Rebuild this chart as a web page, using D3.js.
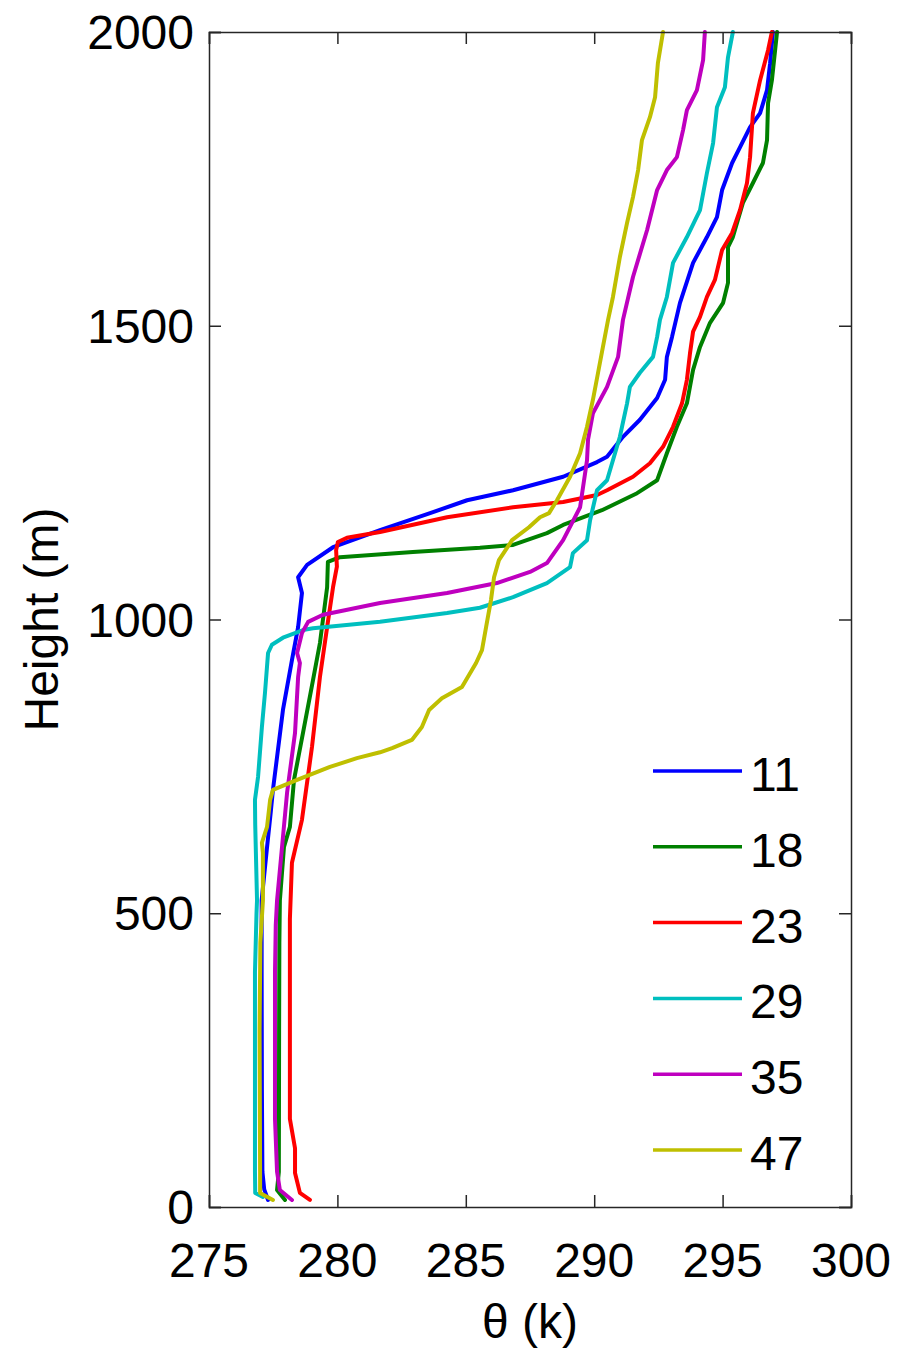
<!DOCTYPE html>
<html>
<head>
<meta charset="utf-8">
<script src="https://cdn.jsdelivr.net/npm/d3@7"></script>
<style>
  html, body { margin: 0; padding: 0; background: #fff; }
  svg { display: block; }
  text { font-family: "Liberation Sans", Arial, Helvetica, sans-serif; fill: #000; }
</style>
</head>
<body>
<svg id="chart" width="900" height="1350"></svg>
<script>
// ---- Data: [theta (K), height (m)] ----
const seriesNames = ["11", "18", "23", "29", "35", "47"];
const seriesColors = ["#0000ff", "#008000", "#ff0000", "#00bfbf", "#bf00bf", "#bfbf00"];

const s11 = [[277.30,12],[277.15,30],[277.08,60],[277.06,200],[277.05,400],[277.05,522],[277.25,608],[277.40,670],[277.49,710],[277.88,846],[278.23,931],[278.47,987],[278.62,1045],[278.47,1072],[278.82,1093],[279.83,1123],[281.66,1152],[283.61,1181],[285.05,1203],[286.84,1220],[288.79,1243],[290.11,1268],[290.50,1277],[291.12,1311],[291.78,1340],[292.45,1377],[292.76,1408],[292.83,1447],[293.03,1481],[293.34,1539],[293.85,1607],[294.39,1651],[294.78,1685],[294.98,1731],[295.37,1777],[295.68,1804],[296.07,1838],[296.46,1862],[296.73,1901],[296.85,1947],[296.96,2000]];

const s18 = [[277.96,12],[277.65,29],[277.72,60],[277.73,300],[277.74,450],[277.76,522],[277.92,613],[278.15,647],[278.31,727],[278.66,807],[279.05,897],[279.32,960],[279.60,1055],[279.63,1098],[280.10,1106],[282.94,1115],[285.55,1122],[286.84,1127],[288.16,1147],[288.79,1161],[290.30,1186],[291.67,1215],[292.45,1237],[292.83,1283],[293.22,1328],[293.61,1368],[293.85,1425],[294.12,1464],[294.51,1505],[295.02,1539],[295.21,1573],[295.21,1634],[295.40,1651],[295.79,1709],[296.18,1743],[296.57,1777],[296.73,1816],[296.77,1879],[296.92,1918],[297.12,2000]];

const s23 = [[278.93,12],[278.54,24],[278.35,58],[278.35,100],[278.15,150],[278.15,490],[278.23,586],[278.62,659],[279.01,783],[279.32,902],[279.60,987],[279.83,1055],[279.98,1090],[279.95,1118],[280.02,1132],[280.37,1139],[281.66,1149],[284.27,1174],[286.84,1191],[288.79,1200],[290.11,1212],[290.50,1220],[291.51,1243],[292.17,1266],[292.68,1294],[293.07,1328],[293.42,1368],[293.61,1408],[293.73,1453],[293.85,1490],[294.12,1515],[294.39,1549],[294.70,1578],[294.98,1629],[295.37,1658],[295.68,1697],[295.95,1743],[296.07,1787],[296.18,1862],[296.46,1918],[296.77,1969],[296.92,2000]];

const s29 = [[277.10,17],[276.80,24],[276.79,60],[276.79,400],[276.85,500],[276.87,522],[276.80,650],[276.79,693],[276.91,732],[277.06,817],[277.18,875],[277.30,943],[277.45,957],[277.88,969],[278.66,982],[279.05,985],[281.66,996],[284.27,1011],[285.55,1020],[286.84,1038],[288.16,1062],[289.06,1089],[289.17,1113],[289.72,1135],[289.84,1169],[290.11,1220],[290.50,1237],[291.00,1311],[291.28,1368],[291.39,1396],[291.78,1420],[292.29,1447],[292.45,1481],[292.56,1510],[292.83,1549],[293.07,1607],[293.61,1651],[294.12,1697],[294.39,1760],[294.63,1811],[294.78,1872],[295.09,1906],[295.21,1957],[295.40,2000]];

const s35 = [[278.23,12],[277.76,29],[277.65,60],[277.57,150],[277.57,400],[277.60,480],[277.65,522],[278.04,705],[278.35,807],[278.47,902],[278.54,926],[278.43,943],[278.62,977],[278.86,996],[279.44,1008],[281.66,1028],[284.27,1045],[286.21,1062],[287.50,1081],[288.16,1096],[288.79,1135],[289.45,1191],[289.72,1271],[289.76,1306],[289.95,1351],[290.50,1396],[290.93,1447],[291.12,1510],[291.51,1583],[292.06,1663],[292.45,1731],[292.83,1765],[293.22,1787],[293.46,1833],[293.61,1867],[294.00,1901],[294.24,1952],[294.31,2000]];

const s47 = [[277.49,12],[276.99,24],[276.99,60],[276.97,300],[277.00,450],[277.10,522],[277.10,603],[277.06,620],[277.26,647],[277.38,693],[277.49,710],[278.43,727],[279.71,749],[280.76,764],[281.66,774],[282.13,781],[282.90,795],[283.29,817],[283.57,846],[284.07,866],[284.85,885],[285.40,926],[285.63,948],[285.79,987],[285.98,1033],[286.10,1072],[286.29,1101],[286.80,1135],[287.46,1157],[287.89,1174],[288.24,1181],[288.55,1203],[289.06,1243],[289.45,1283],[289.72,1328],[289.95,1374],[290.15,1420],[290.34,1464],[290.54,1510],[290.73,1549],[291.00,1617],[291.28,1675],[291.51,1719],[291.71,1765],[291.86,1816],[292.17,1855],[292.37,1889],[292.48,1947],[292.68,2000]];

const seriesData = [s11, s18, s23, s29, s35, s47];

const xTicks = [275, 280, 285, 290, 295, 300];
const yTicks = [0, 500, 1000, 1500, 2000];
const xLabel = "θ (k)";
const yLabel = "Height (m)";

// ---- Layout ----
const svg = d3.select("#chart");
const plot = { left: 209, right: 851, top: 32, bottom: 1207 };
const x = d3.scaleLinear().domain([275, 300]).range([plot.left, plot.right]);
const y = d3.scaleLinear().domain([0, 2000]).range([plot.bottom, plot.top]);

const fontSize = 48;
const tickLen = 12;
const axisColor = "#262626";
const lineWidth = 4;

// Lines
const line = d3.line().x(d => x(d[0])).y(d => y(d[1]));
svg.append("defs").append("clipPath").attr("id", "clip")
  .append("rect").attr("x", plot.left).attr("y", plot.top - 2)
  .attr("width", plot.right - plot.left).attr("height", plot.bottom - plot.top + 2);

const g = svg.append("g").attr("clip-path", "url(#clip)");
seriesData.forEach((s, i) => {
  g.append("path").datum(s)
    .attr("d", line)
    .attr("fill", "none")
    .attr("stroke", seriesColors[i])
    .attr("stroke-width", lineWidth)
    .attr("stroke-linejoin", "round")
    .attr("stroke-linecap", "round");
});

// Axes (box with inward ticks)
const axB = d3.axisBottom(x).tickValues(xTicks).tickSize(-tickLen).tickFormat("");
const axT = d3.axisTop(x).tickValues(xTicks).tickSize(-tickLen).tickFormat("");
const axL = d3.axisLeft(y).tickValues(yTicks).tickSize(-tickLen).tickFormat("");
const axR = d3.axisRight(y).tickValues(yTicks).tickSize(-tickLen).tickFormat("");

function styleAxis(sel) {
  sel.select(".domain").attr("stroke", axisColor).attr("stroke-width", 1.5);
  sel.selectAll(".tick line").attr("stroke", axisColor).attr("stroke-width", 1.5);
}
svg.append("g").attr("transform", `translate(0,${plot.bottom})`).call(axB).call(styleAxis);
svg.append("g").attr("transform", `translate(0,${plot.top})`).call(axT).call(styleAxis);
svg.append("g").attr("transform", `translate(${plot.left},0)`).call(axL).call(styleAxis);
svg.append("g").attr("transform", `translate(${plot.right},0)`).call(axR).call(styleAxis);

// Tick labels
svg.append("g").selectAll("text").data(xTicks).join("text")
  .attr("x", d => x(d)).attr("y", 1277)
  .attr("text-anchor", "middle")
  .style("font-size", fontSize + "px")
  .text(d => d);

svg.append("g").selectAll("text").data(yTicks).join("text")
  .attr("x", 194).attr("y", d => y(d) + 17)
  .attr("text-anchor", "end")
  .style("font-size", fontSize + "px")
  .text(d => d);

// Axis titles
svg.append("text")
  .attr("x", x(287.5)).attr("y", 1338)
  .attr("text-anchor", "middle")
  .style("font-size", fontSize + "px")
  .text(xLabel);

svg.append("text")
  .attr("transform", `translate(58,${y(1000)}) rotate(-90)`)
  .attr("text-anchor", "middle")
  .style("font-size", fontSize + "px")
  .text(yLabel);

// Legend
const legend = svg.append("g");
seriesNames.forEach((name, i) => {
  const ly = 771 + i * 75.8;
  legend.append("line")
    .attr("x1", 653).attr("x2", 742)
    .attr("y1", ly).attr("y2", ly)
    .attr("stroke", seriesColors[i]).attr("stroke-width", 3.5);
  legend.append("text")
    .attr("x", 750).attr("y", ly + 20)
    .style("font-size", fontSize + "px")
    .text(name);
});
</script>
</body>
</html>
